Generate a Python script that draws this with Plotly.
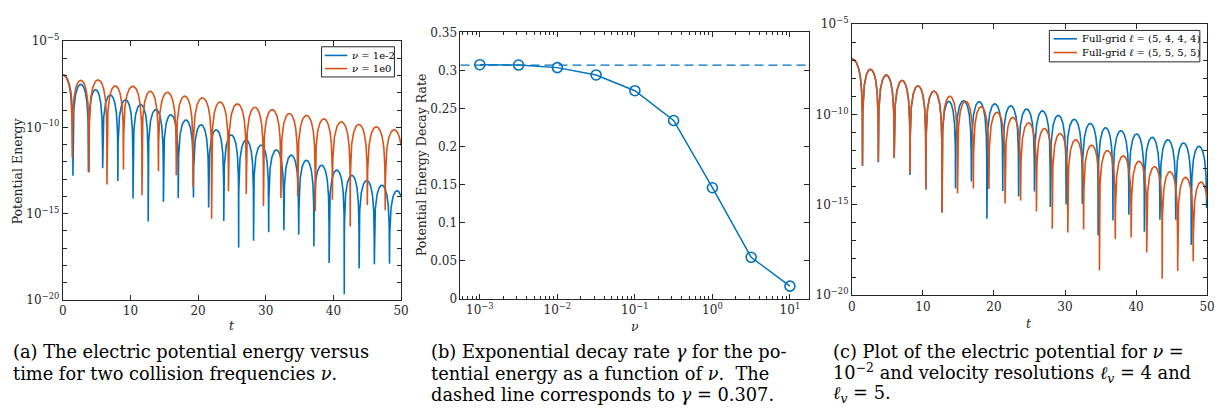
import numpy as np
import plotly.graph_objects as go

W, H = 1223, 411
BLUE = "#0072BD"
RED = "#D95319"
AX = "#262626"
SERIF = "DejaVu Serif"

# ---------------- Panel (a): potential energy vs t -----------------
a_blue_name = "<i>ν</i> = 1e-2"
a_blue_dip_t = [1.51, 3.80, 5.90, 8.15, 10.39, 12.63, 14.88, 17.07, 19.32, 21.56, 23.80,
                26.00, 28.20, 30.44, 32.68, 34.88, 37.12, 39.37, 41.61, 43.80, 46.05, 48.29]
a_blue_dip_log = [-12.80, -12.61, -12.37, -13.11, -14.13, -15.45, -14.32, -14.10, -14.06, -14.65, -15.43,
                  -16.97, -16.57, -16.08, -15.97, -16.21, -16.90, -17.86, -19.67, -18.18, -17.94, -17.90]
a_blue_peak_log = [-6.95, -7.51, -7.82, -8.12, -8.40, -8.68, -8.97, -9.27, -9.57, -9.85, -10.14, -10.44,
                   -10.74, -11.03, -11.31, -11.61, -11.91, -12.20, -12.48, -12.78, -13.08, -13.35, -13.67]

a_red_name = "<i>ν</i> = 1e0"
a_red_dip_t = [1.41, 3.90, 6.54, 8.98, 11.71, 14.15, 16.78, 19.27, 22.00, 24.49, 27.12,
               29.66, 32.24, 34.73, 37.32, 39.85, 42.49, 45.02, 47.66]
a_red_dip_log = [-11.78, -12.61, -13.32, -12.46, -13.93, -12.54, -12.78, -13.45, -15.30, -13.71, -13.87,
                 -14.56, -14.10, -14.02, -14.86, -14.20, -15.75, -14.50, -14.80]
a_red_peak_log = [-6.95, -7.28, -7.25, -7.60, -7.62, -7.91, -7.97, -8.19, -8.29, -8.53, -8.64,
                  -8.84, -8.97, -9.20, -9.31, -9.51, -9.68, -9.83, -9.97, -10.14]

# ---------------- Panel (b): decay rate vs nu -----------------
b_nu = [0.001, 0.00316, 0.01, 0.0316, 0.1, 0.316, 1.0, 3.16, 10.0]
b_rate = [0.3075, 0.3071, 0.3037, 0.2941, 0.2734, 0.2343, 0.1460, 0.0547, 0.0168]
b_gamma_ref = 0.307

# ---------------- Panel (c): two velocity resolutions -----------------
c_blue_name = "Full-grid <i>ℓ</i> = (5, 4, 4, 4)"
c_blue_dip_t = [1.49, 3.72, 5.95, 8.18, 10.41, 12.69, 14.59, 16.82, 19.00, 21.24, 23.47,
                25.70, 27.93, 30.16, 32.43, 34.66, 36.75, 38.99, 41.17, 43.36, 45.59, 47.77]
c_blue_dip_log = [-12.85, -12.64, -12.41, -13.35, -14.15, -15.43, -14.10, -13.71, -15.78, -14.24, -14.54,
                  -14.27, -15.12, -14.98, -14.95, -16.70, -15.87, -15.55, -16.49, -15.83, -15.83, -17.22]
c_blue_peak_log = [-6.92, -7.50, -7.82, -8.12, -8.42, -8.71, -9.27, -9.24, -9.29, -9.41, -9.52, -9.70,
                   -9.80, -10.05, -10.27, -10.50, -10.73, -10.90, -11.08, -11.26, -11.40, -11.58, -11.76]

c_red_name = "Full-grid <i>ℓ</i> = (5, 5, 5, 5)"
c_red_dip_t = [1.49, 3.72, 5.95, 8.18, 10.41, 12.69, 14.87, 17.10, 19.28, 21.56, 23.75,
               25.98, 28.21, 30.39, 32.62, 34.85, 37.08, 39.31, 41.50, 43.68, 45.86, 48.05]
c_red_dip_log = [-12.82, -12.61, -12.41, -13.26, -14.15, -15.43, -14.36, -14.10, -14.13, -14.93, -14.77,
                 -15.37, -16.33, -16.54, -16.37, -18.62, -16.90, -16.81, -17.64, -19.10, -18.67, -18.12]
c_red_peak_log = [-6.92, -7.50, -7.82, -8.12, -8.42, -8.71, -8.99, -9.27, -9.57, -9.88, -10.16, -10.46,
                  -10.78, -11.05, -11.40, -11.70, -12.00, -12.29, -12.59, -12.89, -13.17, -13.48, -13.74]

T_END = 50.0

# caption lines (one list per panel)
cap_a = ["(a) The electric potential energy versus",
         "time for two collision frequencies <i>ν</i>."]
cap_b = ["(b) Exponential decay rate <i>γ</i> for the po-",
         "tential energy as a function of <i>ν</i>.  The",
         "dashed line corresponds to <i>γ</i> = 0.307."]
cap_c = ["(c) Plot of the electric potential for <i>ν</i> =",
         "10<sup>−2</sup> and velocity resolutions <i>ℓ<sub>v</sub></i> = 4 and",
         "<i>ℓ<sub>v</sub></i> = 5."]


def build_curve(dip_t, dip_log, peak_log, t_end=T_END, n=160):
    """Join the read-off lobes: each lobe rises from one dip to its peak and falls to the next dip."""
    ts, es = [], []
    s = np.linspace(0.0, 1.0, n, endpoint=False)
    ts.extend(s * dip_t[0])
    es.extend(np.maximum(10 ** peak_log[0] * np.cos(0.5 * np.pi * s) ** 2, 10 ** dip_log[0]))
    ts.append(dip_t[0]); es.append(10 ** dip_log[0])
    for k in range(len(dip_t)):
        ta = dip_t[k]
        last = k + 1 >= len(dip_t)
        tb = dip_t[k] + (dip_t[k] - dip_t[k - 1]) if last else dip_t[k + 1]
        floor = 10 ** (dip_log[k] if last else min(dip_log[k], dip_log[k + 1]))
        s = np.linspace(0.0, 1.0, n + 1)[1:-1]
        t = ta + s * (tb - ta)
        e = np.maximum(10 ** peak_log[k + 1] * np.sin(np.pi * s) ** 2, floor)
        keep = t < t_end
        ts.extend(t[keep]); es.extend(e[keep])
        if last:
            se = (t_end - ta) / (tb - ta)
            ts.append(t_end); es.append(10 ** peak_log[k + 1] * np.sin(np.pi * se) ** 2)
        else:
            ts.append(tb); es.append(10 ** dip_log[k + 1])
    return ts, es


def px(x):
    return x / W


def py(y):
    return 1 - y / H


fig = go.Figure()

for name, col, d_t, d_l, p_l, xa, ya in [
    (a_blue_name, BLUE, a_blue_dip_t, a_blue_dip_log, a_blue_peak_log, "x", "y"),
    (a_red_name, RED, a_red_dip_t, a_red_dip_log, a_red_peak_log, "x", "y"),
    (c_blue_name, BLUE, c_blue_dip_t, c_blue_dip_log, c_blue_peak_log, "x3", "y3"),
    (c_red_name, RED, c_red_dip_t, c_red_dip_log, c_red_peak_log, "x3", "y3"),
]:
    tt, ee = build_curve(d_t, d_l, p_l)
    fig.add_trace(go.Scatter(x=tt, y=ee, mode="lines", name=name, xaxis=xa, yaxis=ya,
                             line=dict(color=col, width=1.6), showlegend=False))

fig.add_trace(go.Scatter(x=b_nu, y=b_rate, mode="lines+markers", xaxis="x2", yaxis="y2",
                         line=dict(color=BLUE, width=1.5),
                         marker=dict(symbol="circle-open", size=10, color=BLUE, line=dict(width=1.6)),
                         showlegend=False))

tickfont = dict(family=SERIF, size=12, color=AX)
common = dict(showline=True, linecolor=AX, linewidth=1, mirror="ticks", ticks="inside",
              ticklen=5, tickwidth=1, tickcolor=AX, showgrid=False, zeroline=False, tickfont=tickfont)

log_major = [1e-20, 1e-15, 1e-10, 1e-5]
log_major_text = ["10<sup>−20</sup>", "10<sup>−15</sup>", "10<sup>−10</sup>", "10<sup>−5</sup>"]
log_minor = [10.0 ** e for e in range(-20, -4)]

ylog = dict(type="log", range=[-20, -5], tickmode="array", tickvals=log_major, ticktext=log_major_text,
            minor=dict(tickmode="array", tickvals=log_minor, ticks="inside", ticklen=4, tickcolor=AX), **common)
xlin = dict(range=[0, 50], tickmode="array", tickvals=[0, 10, 20, 30, 40, 50], **common)

nu_major = [1e-3, 1e-2, 1e-1, 1e0, 1e1]
nu_major_text = ["10<sup>−3</sup>", "10<sup>−2</sup>", "10<sup>−1</sup>", "10<sup>0</sup>", "10<sup>1</sup>"]
nu_minor = [m * 10.0 ** e for e in range(-4, 2) for m in range(2, 10)]

fig.update_layout(
    width=W, height=H, margin=dict(l=0, r=0, t=0, b=0),
    paper_bgcolor="white", plot_bgcolor="white",
    font=dict(family=SERIF),
    xaxis=dict(domain=[px(59.3), px(401)], anchor="y", **xlin),
    yaxis=dict(domain=[py(302.7), py(33.3)], anchor="x", **ylog),
    xaxis2=dict(domain=[px(461), px(813.3)], anchor="y2", type="log", range=[-3.25, 1.25],
                tickmode="array", tickvals=nu_major, ticktext=nu_major_text,
                minor=dict(tickmode="array", tickvals=nu_minor, ticks="inside", ticklen=2.5, tickcolor=AX),
                **common),
    yaxis2=dict(domain=[py(301.7), py(24.3)], anchor="x2", range=[0, 0.35], dtick=0.05, **common),
    xaxis3=dict(domain=[px(856.3), px(1215)], anchor="y3", **xlin),
    yaxis3=dict(domain=[py(297.7), py(15.7)], anchor="x3", **ylog),
)

# dashed reference line gamma = 0.307
fig.add_shape(type="line", xref="x2 domain", yref="y2", x0=0, x1=1, y0=b_gamma_ref, y1=b_gamma_ref,
              line=dict(color=BLUE, width=1.2, dash="9px,5px"))

ann = []
lab = dict(family=SERIF, size=12.5, color=AX)
# axis titles
ann.append(dict(x=px(14), y=py(168), text="Potential Energy", textangle=-90, font=lab))
ann.append(dict(x=px(230), y=py(329), text="<i>t</i>", font=lab))
ann.append(dict(x=px(421.5), y=py(162), text="Potential Energy Decay Rate", textangle=-90, font=lab))
ann.append(dict(x=px(637), y=py(330), text="<i>ν</i>", font=lab))
ann.append(dict(x=px(1035), y=py(327), text="<i>t</i>", font=lab))
for a in ann:
    a.update(xref="paper", yref="paper", showarrow=False, xanchor="center", yanchor="middle")


# manual legends (box, line samples, labels)
def legend(x0, x1, y0, y1, lx0, lx1, tx, rows):
    fig.add_shape(type="rect", xref="paper", yref="paper", x0=px(x0), x1=px(x1), y0=py(y1), y1=py(y0),
                  line=dict(color=AX, width=1), fillcolor="white", layer="above")
    for yy, col, txt in rows:
        fig.add_shape(type="line", xref="paper", yref="paper", x0=px(lx0), x1=px(lx1), y0=py(yy), y1=py(yy),
                      line=dict(color=col, width=1.6), layer="above")
        ann.append(dict(x=px(tx), y=py(yy), text=txt, xref="paper", yref="paper", showarrow=False,
                        xanchor="left", yanchor="middle", font=dict(family=SERIF, size=10, color="black")))


legend(320.7, 394.3, 39.3, 70.7, 324, 346.7, 349, [(48.3, BLUE, a_blue_name), (62, RED, a_red_name)])
legend(1055.7, 1207.7, 22.3, 55, 1060, 1083.7, 1086.5, [(31, BLUE, c_blue_name), (45.3, RED, c_red_name)])

# captions, one annotation per line
cap = dict(family=SERIF, size=17.8, color="black")
line_y = [356.5, 379, 401]
for x0, lines in [(8, cap_a), (430, cap_b), (836, cap_c)]:
    for yy, txt in zip(line_y, lines):
        ann.append(dict(x=px(x0), y=py(yy), text=txt, xref="paper", yref="paper", showarrow=False,
                        xanchor="left", yanchor="middle", align="left", font=cap, borderpad=0))

fig.update_layout(annotations=ann)
fig.write_html("out.html")
